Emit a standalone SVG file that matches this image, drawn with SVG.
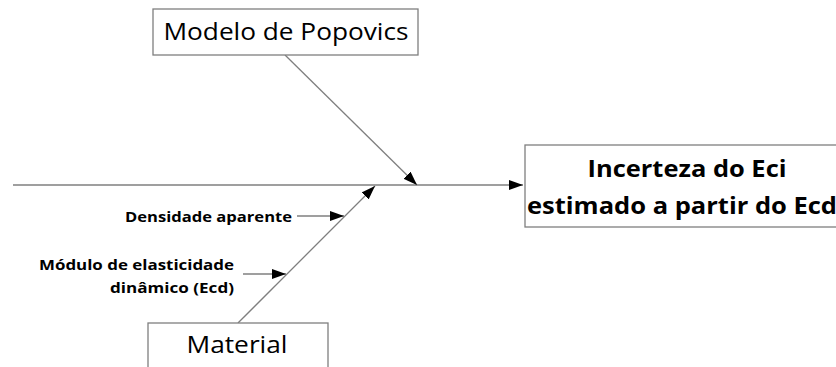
<svg xmlns="http://www.w3.org/2000/svg" width="836" height="367" viewBox="0 0 836 367">
<style>
.box{fill:#fff;stroke:#7f7f7f;stroke-width:1.3}
.ln{stroke:#7f7f7f;stroke-width:1.3;fill:none}
.t{font-family:"Open Sans","Liberation Sans",sans-serif;fill:#000}
.b{font-weight:bold}
</style>
<defs>
<marker id="ah" viewBox="0 0 14 10" refX="14" refY="5" markerWidth="14" markerHeight="10" markerUnits="userSpaceOnUse" orient="auto">
<path d="M0,0 L14,5 L0,10 z" fill="#000"/>
</marker>
</defs>
<g id="connectors">
<line class="ln" x1="13" y1="185" x2="523" y2="185" marker-end="url(#ah)"/>
<line class="ln" x1="285" y1="55" x2="417" y2="185" marker-end="url(#ah)"/>
<line class="ln" x1="238" y1="323" x2="375" y2="186" marker-end="url(#ah)"/>
<line class="ln" x1="297" y1="216" x2="344" y2="216" marker-end="url(#ah)"/>
<line class="ln" x1="243" y1="274" x2="286" y2="274" marker-end="url(#ah)"/>
</g>
<g id="popovics">
<rect class="box" x="153" y="9" width="265" height="46"/>
<text class="t" x="286" y="40" font-size="24" text-anchor="middle" textLength="245" lengthAdjust="spacingAndGlyphs">Modelo de Popovics</text>
</g>
<g id="efeito">
<rect class="box" x="525" y="145" width="330" height="82"/>
<text class="t b" x="687" y="177" font-size="24" text-anchor="middle" textLength="199" lengthAdjust="spacingAndGlyphs">Incerteza do Eci</text>
<text class="t b" x="527" y="214" font-size="24" textLength="310" lengthAdjust="spacingAndGlyphs">estimado a partir do Ecd</text>
</g>
<g id="material">
<rect class="box" x="148" y="323" width="180" height="60"/>
<text class="t" x="237" y="353" font-size="24" text-anchor="middle" textLength="101" lengthAdjust="spacingAndGlyphs">Material</text>
</g>
<g id="densidade">
<text class="t b" x="292" y="222" font-size="14.5" text-anchor="end" textLength="167" lengthAdjust="spacingAndGlyphs">Densidade aparente</text>
</g>
<g id="modulo">
<text class="t b" x="234" y="270" font-size="14.5" text-anchor="end" textLength="195" lengthAdjust="spacingAndGlyphs">Módulo de elasticidade</text>
<text class="t b" x="234" y="293" font-size="14.5" text-anchor="end" textLength="124" lengthAdjust="spacingAndGlyphs">dinâmico (Ecd)</text>
</g>
</svg>
